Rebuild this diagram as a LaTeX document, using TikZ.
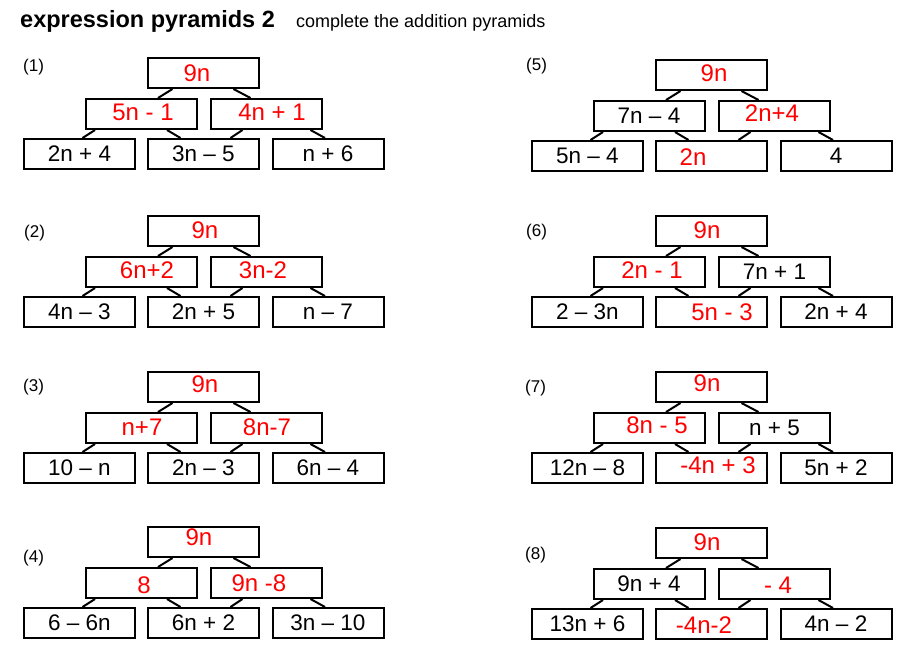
\documentclass[tikz,border=0pt]{standalone}
\usepackage{fontspec}
\setmainfont{Liberation Sans}
\usetikzlibrary{calc}
\tikzset{
  box/.style={draw, line width=2pt, minimum width=111pt, minimum height=30pt, inner sep=0pt, font=\fontsize{22.5}{26}\selectfont},
  ans/.style={text=red, font=\fontsize{24}{28}\selectfont, inner sep=0pt},
  link/.style={line width=2pt},
  num/.style={anchor=west, font=\fontsize{17}{20}\selectfont, inner sep=0pt},
}
% id, x0, Y, top, midleft, midright, botleft, botmid, botright
\newcommand{\pyr}[9]{%
  \node[box] (#1t)  at (#2+179.5,#3+15) {#4};
  \node[box] (#1ml) at (#2+117,#3+56) {#5};
  \node[box] (#1mr) at (#2+242.5,#3+56) {#6};
  \node[box] (#1bl) at (#2+55.5,#3+96) {#7};
  \node[box] (#1bm) at (#2+179.5,#3+96) {#8};
  \node[box] (#1br) at (#2+304,#3+96) {#9};
  \draw[link] ($(#1t.south)+(-31,0)$) -- ($(#1ml.north)+(17,0)$);
  \draw[link] ($(#1t.south)+(30,0)$) -- ($(#1mr.north)+(-16,0)$);
  \draw[link] ($(#1ml.south)+(-46,0)$) -- ($(#1bl.north)+(3,0)$);
  \draw[link] ($(#1ml.south)+(26,0)$) -- ($(#1bm.north)+(-23,0)$);
  \draw[link] ($(#1mr.south)+(-24,0)$) -- ($(#1bm.north)+(27,0)$);
  \draw[link] ($(#1mr.south)+(44,0)$) -- ($(#1br.north)+(-3,0)$);
}
\begin{document}
\begin{tikzpicture}[x=1pt,y=-1pt]
\useasboundingbox (0,0) rectangle (909,670);
\node[anchor=base west, inner sep=0pt, font=\bfseries\fontsize{23.5}{28}\selectfont] (title) at (20,27) {expression pyramids 2};
\node[anchor=base west, inner sep=0pt, font=\fontsize{18}{22}\selectfont] (sub) at (296,27) {complete the addition pyramids};

% left column
\pyr{p1}{24}{58}{}{}{}{2n + 4}{3n – 5}{n + 6}
\pyr{p2}{24}{216}{}{}{}{4n – 3}{2n + 5}{n – 7}
\pyr{p3}{24}{372}{}{}{}{10 – n}{2n – 3}{6n – 4}
\pyr{p4}{24}{527}{}{}{}{6 – 6n}{6n + 2}{3n – 10}
% right column
\pyr{p5}{532}{60}{}{7n – 4}{}{5n – 4}{}{4}
\pyr{p6}{532}{216}{}{}{7n + 1}{2 – 3n}{}{2n + 4}
\pyr{p7}{532}{372}{}{}{n + 5}{12n – 8}{}{5n + 2}
\pyr{p8}{532}{528}{}{9n + 4}{}{13n + 6}{}{4n – 2}

% labels
\node[num] (l1) at (23,67) {(1)};
\node[num] (l2) at (24,233) {(2)};
\node[num] (l3) at (23,387) {(3)};
\node[num] (l4) at (23,558) {(4)};
\node[num] (l5) at (526,66) {(5)};
\node[num] (l6) at (526,232) {(6)};
\node[num] (l7) at (525,388) {(7)};
\node[num] (l8) at (525,555) {(8)};

% handwritten answers
\node[ans] (a1t) at (197,73) {9n};
\node[ans] (a1l) at (143,112) {5n - 1};
\node[ans] (a1r) at (272,112) {4n + 1};
\node[ans] (a2t) at (205,230) {9n};
\node[ans] (a2l) at (147,270) {6n+2};
\node[ans] (a2r) at (263,270) {3n-2};
\node[ans] (a3t) at (205,384) {9n};
\node[ans] (a3l) at (142,427) {n+7};
\node[ans] (a3r) at (267,427) {8n-7};
\node[ans] (a4t) at (199,537) {9n};
\node[ans] (a4l) at (144,585) {8};
\node[ans] (a4r) at (259,583) {9n -8};
\node[ans] (a5t) at (714,73) {9n};
\node[ans] (a5r) at (772,113) {2n+4};
\node[ans] (a5b) at (693,157) {2n};
\node[ans] (a6t) at (707,230) {9n};
\node[ans] (a6l) at (652,270) {2n - 1};
\node[ans] (a6b) at (722,312) {5n - 3};
\node[ans] (a7t) at (707,383) {9n};
\node[ans] (a7l) at (657,425) {8n - 5};
\node[ans] (a7b) at (718,465) {-4n + 3};
\node[ans] (a8t) at (707,542) {9n};
\node[ans] (a8r) at (778,585) {- 4};
\node[ans] (a8b) at (704,625) {-4n-2};
\end{tikzpicture}
\end{document}
